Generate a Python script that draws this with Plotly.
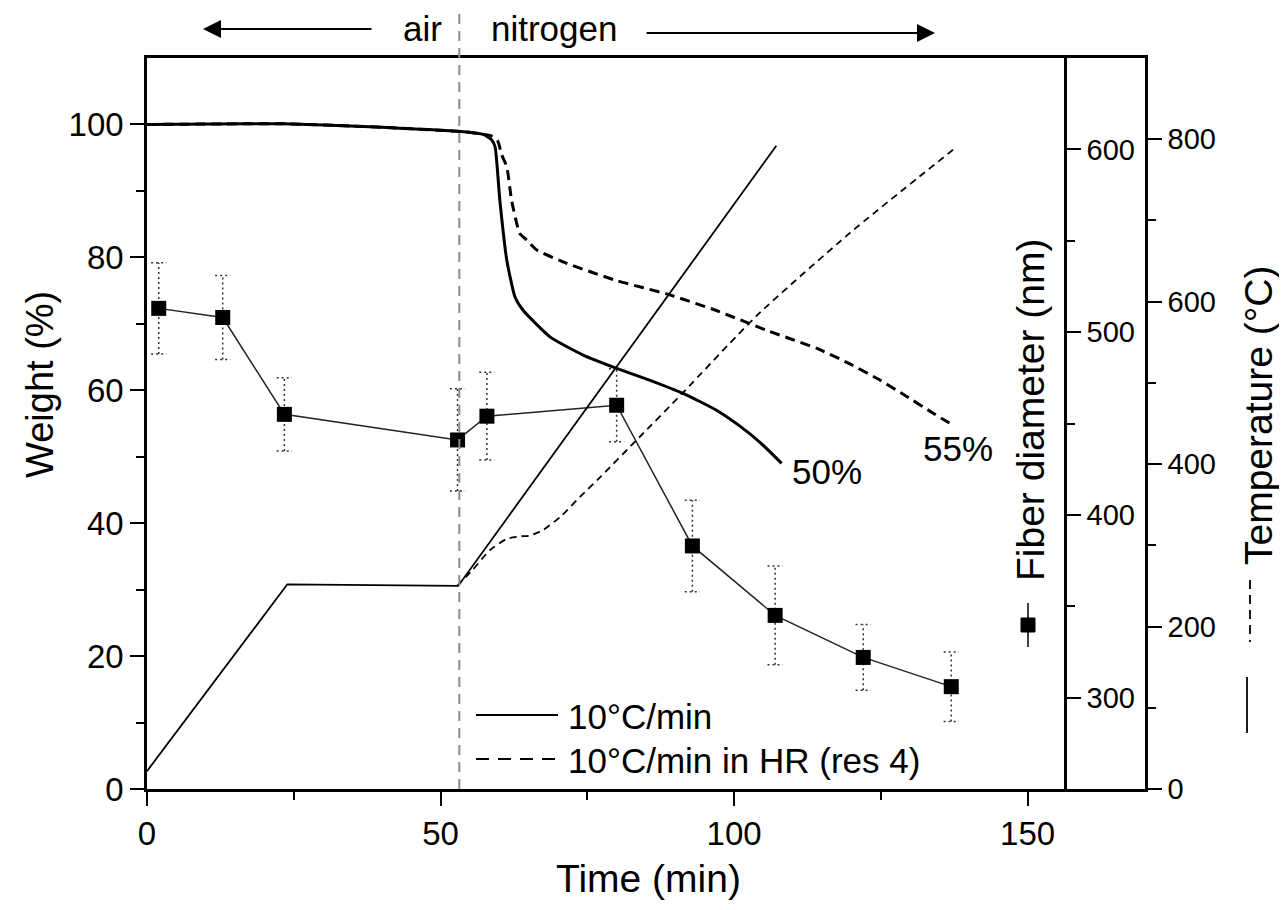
import plotly.graph_objects as go

# ---------------- data ----------------
# Temperature programs (°C) vs time (min)
temp_time_std = [0, 23.9, 53.0, 107.2]
temp_std = [22, 252, 250, 792]

temp_time_hr = [52.8, 55.5, 58.4, 61.3, 63.5, 65.2, 67.5, 70.4, 73.8, 77.2, 84.0, 91.3, 103.9, 119.8, 137.3]
temp_hr = [250, 270, 294, 308, 311, 312, 319, 335, 360, 384, 434, 488, 583, 685, 787]

# Weight (%) vs time (min)
w_time_std = [0, 17, 23.2, 36.8, 53.9, 57.3, 58.7, 59.3, 60.1, 61.3, 62.7, 64.1, 68.7, 74.3, 80.0,
              85.7, 91.4, 97.0, 101.0, 104.5, 108.1]
w_std = [100, 100.1, 100.1, 99.7, 98.9, 98.5, 97.7, 96.6, 88.6, 79.5, 74.0, 72.0, 68.0, 65.3, 63.3,
         61.5, 59.5, 57.0, 54.6, 52.1, 49.0]

w_time_hr = [0, 17, 23.2, 36.8, 53.9, 57.3, 58.9, 59.8, 60.4, 61.3, 62.1, 63.5, 64.7, 66.4, 71.5,
             80.0, 88.5, 97.0, 105.6, 114.1, 119.2, 124.3, 129.0, 134.0, 137.4]
w_hr = [100, 100.1, 100.1, 99.7, 98.9, 98.5, 98.2, 97.4, 95.5, 93.6, 88.6, 83.6, 82.6, 81.1, 79.1,
        76.5, 74.5, 72.0, 69.0, 66.3, 64.2, 61.8, 59.3, 56.5, 54.7]

# Fiber diameter (nm) with error
fiber_time = [2.0, 12.9, 23.4, 52.9, 57.9, 80.0, 92.9, 107.0, 122.0, 137.0]
fiber_nm = [513, 508, 455, 441, 454, 460, 383, 345, 322, 306]
fiber_err = [25, 23, 20, 28, 24, 20, 25, 27, 18, 19]

# Axis ticks
x_ticks = [0, 50, 100, 150]
x_minor = [25, 75, 125]
w_ticks = [0, 20, 40, 60, 80, 100]
w_minor = [10, 30, 50, 70, 90]
d_ticks = [300, 400, 500, 600]
d_minor = [350, 450, 550]
t_ticks = [0, 200, 400, 600, 800]
t_minor = [100, 300, 500, 700]

switch_time = 53.2
legend_labels = ["10°C/min", "10°C/min in HR (res 4)"]

# ---------------- figure ----------------
FONT = "Liberation Sans, Arial, sans-serif"
cap = 1.3  # half-width of error-bar caps (min)
OFF = 8    # page body margin

fig = go.Figure()

# temperature curves
fig.add_trace(go.Scatter(x=temp_time_std, y=temp_std, mode="lines", yaxis="y3",
                         line=dict(color="black", width=1.8), showlegend=False, hoverinfo="skip"))
fig.add_trace(go.Scatter(x=temp_time_hr, y=temp_hr, mode="lines", yaxis="y3",
                         line=dict(color="black", width=1.8, dash="7px,5px", shape="spline",
                                   smoothing=0.6),
                         showlegend=False, hoverinfo="skip"))

# weight curves
fig.add_trace(go.Scatter(x=w_time_std, y=w_std, mode="lines", yaxis="y",
                         line=dict(color="black", width=3, shape="spline", smoothing=0.5),
                         name=legend_labels[0], showlegend=False))
fig.add_trace(go.Scatter(x=w_time_hr, y=w_hr, mode="lines", yaxis="y",
                         line=dict(color="black", width=3, dash="10px,6px", shape="spline",
                                   smoothing=0.5),
                         name=legend_labels[1], showlegend=False))

# dotted error bars built from the fiber data
ex, ey = [], []
for t, d, e in zip(fiber_time, fiber_nm, fiber_err):
    ex += [t, t, None, t - cap, t + cap, None, t - cap, t + cap, None]
    ey += [d - e, d + e, None, d + e, d + e, None, d - e, d - e, None]
fig.add_trace(go.Scatter(x=ex, y=ey, mode="lines", yaxis="y2",
                         line=dict(color="#333333", width=1.5, dash="2px,3px"),
                         showlegend=False, hoverinfo="skip"))

# fiber diameter points
fig.add_trace(go.Scatter(x=fiber_time, y=fiber_nm, mode="lines+markers", yaxis="y2",
                         line=dict(color="#222222", width=1.5),
                         marker=dict(symbol="square", size=15, color="black"),
                         showlegend=False, name="Fiber diameter"))

def axis_common(fs):
    return dict(showline=True, linecolor="black", linewidth=2.5, ticks="outside",
                ticklen=14, tickwidth=2, tickcolor="black", showgrid=False, zeroline=False,
                tickfont=dict(family=FONT, size=fs, color="black"))

minor_common = dict(ticks="outside", ticklen=8, tickwidth=2, tickcolor="black", showgrid=False)

fig.update_layout(
    width=1287 - OFF, height=910 - OFF,
    paper_bgcolor="white", plot_bgcolor="white",
    margin=dict(l=147 - OFF, r=142, t=58 - OFF, b=121, autoexpand=False),
    font=dict(family=FONT, color="black"),
    showlegend=False,
    xaxis=dict(range=[0, 170], tickvals=x_ticks, mirror=True,
               minor=dict(tickvals=x_minor, **minor_common), **axis_common(33)),
    yaxis=dict(range=[0, 110], tickvals=w_ticks,
               minor=dict(tickvals=w_minor, **minor_common), **axis_common(33)),
    yaxis2=dict(range=[250, 650], tickvals=d_ticks, overlaying="y", anchor="free",
                position=(1065 - 147) / 998, side="right",
                minor=dict(tickvals=d_minor, **minor_common), **axis_common(29)),
    yaxis3=dict(range=[0, 900], tickvals=t_ticks, overlaying="y", anchor="x", side="right",
                minor=dict(tickvals=t_minor, **minor_common), **axis_common(29)),
)

def px(p):
    return (p - 147) / 998

def py(q):
    return (789 - q) / 731

shapes = [
    # air / nitrogen switch line
    dict(type="line", xref="x", yref="paper", x0=switch_time, x1=switch_time, y0=0, y1=py(5),
         line=dict(color="#8c8c8c", width=2, dash="10px,7px")),
    # legend samples
    dict(type="line", xref="paper", yref="paper", x0=px(476), x1=px(558), y0=py(715), y1=py(715),
         line=dict(color="black", width=2)),
    dict(type="line", xref="paper", yref="paper", x0=px(476), x1=px(558), y0=py(759), y1=py(759),
         line=dict(color="black", width=2, dash="13px,9px")),
    # fiber diameter title symbol
    dict(type="line", xref="paper", yref="paper", x0=px(1028), x1=px(1028), y0=py(603), y1=py(647),
         line=dict(color="black", width=1.5)),
    dict(type="rect", xref="paper", yref="paper", x0=px(1021), x1=px(1035), y0=py(632), y1=py(618),
         fillcolor="black", line=dict(color="black", width=1)),
    # temperature title symbols
    dict(type="line", xref="paper", yref="paper", x0=px(1250), x1=px(1250), y0=py(580), y1=py(642),
         line=dict(color="black", width=1.8, dash="9px,6px")),
    dict(type="line", xref="paper", yref="paper", x0=px(1247), x1=px(1247), y0=py(677), y1=py(733),
         line=dict(color="black", width=1.8)),
]
fig.update_layout(shapes=shapes)

ann_font = dict(family=FONT, size=35, color="black")
title_font = dict(family=FONT, size=39, color="black")
annotations = [
    dict(text="Time (min)", xref="paper", yref="paper", x=px(648), y=py(878),
         showarrow=False, font=title_font, xanchor="center", yanchor="middle"),
    dict(text="Weight (%)", xref="paper", yref="paper", x=px(40), y=py(385), textangle=-90,
         showarrow=False, font=dict(family=FONT, size=38, color="black"),
         xanchor="center", yanchor="middle"),
    dict(text="Fiber diameter (nm)", xref="paper", yref="paper", x=px(1030), y=py(410), textangle=-90,
         showarrow=False, font=title_font, xanchor="center", yanchor="middle"),
    dict(text="Temperature (°C)", xref="paper", yref="paper", x=px(1258), y=py(415), textangle=-90,
         showarrow=False, font=title_font, xanchor="center", yanchor="middle"),
    dict(text="air", xref="paper", yref="paper", x=px(422), y=py(29), showarrow=False,
         font=ann_font, xanchor="center", yanchor="middle"),
    dict(text="nitrogen", xref="paper", yref="paper", x=px(554), y=py(29), showarrow=False,
         font=ann_font, xanchor="center", yanchor="middle"),
    dict(text="", xref="paper", yref="paper", x=px(203), y=py(29), ax=170, ay=0,
         showarrow=True, arrowhead=2, arrowsize=1.8, arrowwidth=2, arrowcolor="black"),
    dict(text="", xref="paper", yref="paper", x=px(935), y=py(33), ax=-290, ay=0,
         showarrow=True, arrowhead=2, arrowsize=1.8, arrowwidth=2, arrowcolor="black"),
    dict(text=legend_labels[0], xref="paper", yref="paper", x=px(566), y=py(716), showarrow=False,
         font=ann_font, xanchor="left", yanchor="middle"),
    dict(text=legend_labels[1], xref="paper", yref="paper", x=px(566), y=py(760), showarrow=False,
         font=ann_font, xanchor="left", yanchor="middle"),
    dict(text="50%", xref="x", yref="y", x=109.6, y=47.8, showarrow=False,
         font=ann_font, xanchor="left", yanchor="middle"),
    dict(text="55%", xref="x", yref="y", x=131.8, y=51.3, showarrow=False,
         font=ann_font, xanchor="left", yanchor="middle"),
]
fig.update_layout(annotations=annotations)

fig.write_html("out.html")
